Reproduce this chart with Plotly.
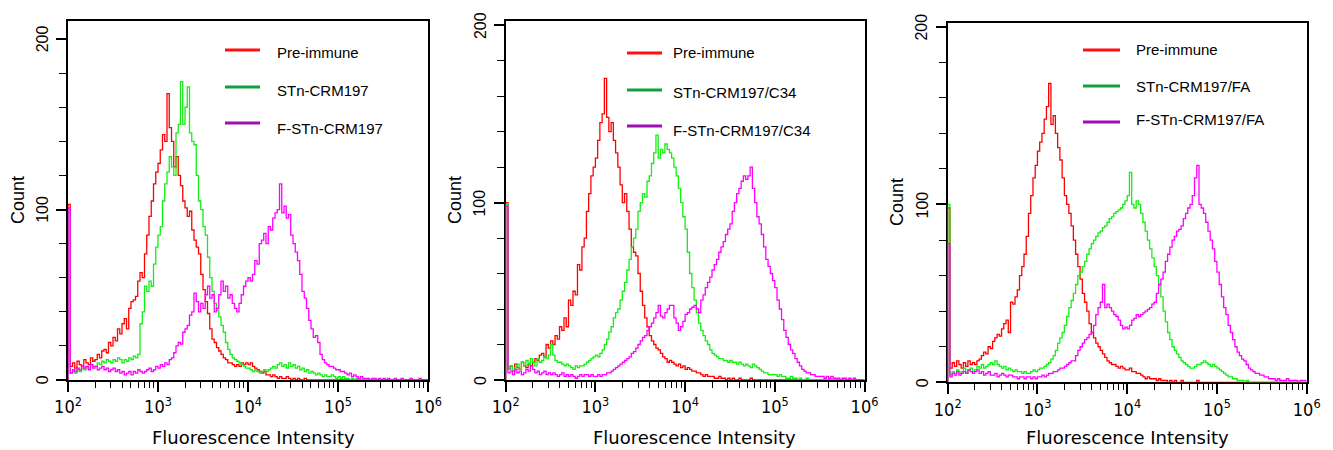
import plotly.graph_objects as go

# ---------------- data ----------------
BIN_START = 2.0      # log10 of first channel
BIN_STEP = 0.025     # channel width in decades
N_BINS = 160

legend_labels = [
    ["Pre-immune", "STn-CRM197", "F-STn-CRM197"],
    ["Pre-immune", "STn-CRM197/C34", "F-STn-CRM197/C34"],
    ["Pre-immune", "STn-CRM197/FA", "F-STn-CRM197/FA"],
]
x_title = "Fluorescence Intensity"
y_title = "Count"
y_ticks = [0, 100, 200]
x_tick_vals = [1e2, 1e3, 1e4, 1e5, 1e6]
x_tick_text = ["10<sup>2</sup>", "10<sup>3</sup>", "10<sup>4</sup>", "10<sup>5</sup>", "10<sup>6</sup>"]

p1_pre = [103, 8, 10, 7, 11, 9, 8, 12, 10, 9, 13, 11, 12, 15, 13, 17, 18, 16, 22, 20,
          25, 23, 30, 27, 33, 36, 30, 42, 46, 47, 49, 58, 63, 60, 74, 85, 96, 105, 115, 122,
          127, 135, 144, 140, 168, 148, 140, 125, 131, 120, 114, 105, 101, 96, 99, 88, 82, 78, 74, 62,
          53, 46, 39, 30, 24, 22, 19, 17, 15, 13, 12, 10, 10, 9, 8, 9, 8, 10, 9, 10,
          9, 10, 8, 7, 6, 5, 4, 5, 3, 3, 2, 3, 2, 1, 2, 1, 1, 2, 1, 0,
          1, 0, 1, 0, 0, 1, 0, 0, 0, 0, 0, 0, 0, 0, 0, 0, 0, 0, 0, 0,
          0, 0, 0, 0, 0, 0, 0, 0, 0, 0, 0, 0, 0, 0, 0, 0, 0, 0, 0, 0,
          0, 0, 0, 0, 0, 0, 0, 0, 0, 0, 0, 0, 0, 0, 0, 0, 0, 0, 0, 0]
p1_stn = [100, 4, 5, 4, 6, 5, 7, 6, 8, 7, 9, 8, 8, 10, 9, 11, 10, 12, 11, 10,
          12, 11, 13, 12, 10, 12, 11, 13, 12, 14, 13, 15, 33, 40, 55, 52, 58, 55, 68, 78,
          85, 90, 105, 115, 122, 131, 125, 120, 145, 150, 175, 150, 160, 172, 145, 140, 138, 120, 105, 100,
          90, 85, 72, 60, 52, 45, 41, 37, 32, 28, 22, 18, 15, 13, 12, 11, 10, 9, 8, 7,
          7, 6, 5, 6, 5, 4, 5, 6, 5, 6, 7, 8, 7, 9, 10, 8, 9, 7, 10, 8,
          9, 7, 8, 6, 7, 5, 6, 4, 5, 4, 3, 4, 3, 2, 3, 2, 2, 3, 2, 1,
          2, 1, 2, 1, 1, 0, 1, 0, 1, 0, 0, 0, 0, 0, 0, 0, 0, 0, 0, 0,
          0, 0, 0, 0, 0, 0, 0, 0, 0, 0, 0, 0, 0, 0, 0, 0, 0, 0, 0, 0]
p1_fstn = [101, 4, 6, 5, 7, 6, 8, 7, 8, 6, 9, 7, 8, 6, 7, 8, 6, 7, 5, 6,
           7, 5, 6, 4, 5, 3, 4, 5, 3, 5, 4, 6, 5, 4, 5, 6, 7, 5, 6, 8,
           7, 9, 8, 10, 9, 12, 13, 16, 20, 22, 21, 28, 30, 32, 38, 40, 51, 46, 40, 45,
           42, 50, 55, 48, 50, 40, 42, 50, 58, 52, 55, 48, 50, 45, 42, 40, 45, 50, 55, 58,
           60, 58, 62, 70, 68, 80, 82, 86, 80, 90, 88, 95, 98, 100, 115, 98, 102, 95, 97, 85,
           80, 75, 70, 62, 52, 48, 42, 35, 30, 25, 26, 22, 15, 12, 10, 9, 8, 8, 7, 6,
           6, 5, 5, 4, 3, 4, 2, 3, 2, 1, 2, 1, 1, 1, 0, 1, 1, 0, 1, 0,
           1, 0, 1, 0, 0, 1, 0, 0, 1, 0, 0, 0, 1, 0, 0, 0, 1, 0, 0, 0]

p2_pre = [100, 6, 8, 5, 9, 7, 6, 10, 8, 7, 9, 8, 10, 12, 11, 14, 15, 13, 20, 18,
          22, 20, 25, 23, 30, 28, 35, 30, 45, 42, 50, 48, 65, 62, 75, 80, 95, 105, 115, 120,
          125, 135, 145, 150, 170, 148, 140, 145, 135, 128, 120, 110, 100, 105, 95, 85, 75, 72, 70, 60,
          50, 42, 35, 30, 25, 22, 20, 18, 17, 15, 13, 12, 10, 11, 10, 9, 8, 9, 7, 8,
          6, 7, 6, 5, 5, 4, 4, 3, 2, 3, 2, 2, 2, 1, 1, 2, 1, 1, 0, 1,
          0, 1, 0, 0, 1, 0, 0, 0, 0, 1, 0, 0, 0, 0, 0, 0, 0, 0, 0, 0,
          0, 0, 0, 0, 0, 0, 0, 0, 0, 0, 0, 0, 0, 0, 0, 0, 0, 0, 0, 0,
          0, 0, 0, 0, 0, 0, 0, 0, 0, 0, 0, 0, 0, 0, 0, 0, 0, 0, 0, 0]
p2_stn = [99, 6, 8, 5, 7, 9, 6, 10, 8, 11, 9, 12, 10, 8, 12, 10, 11, 13, 12, 14,
          20, 14, 11, 10, 10, 9, 8, 9, 8, 7, 6, 8, 7, 8, 8, 9, 10, 11, 12, 13,
          14, 13, 15, 17, 20, 23, 27, 30, 35, 38, 40, 45, 50, 55, 62, 68, 75, 80, 85, 95,
          100, 105, 103, 112, 115, 122, 128, 138, 125, 130, 128, 133, 130, 128, 125, 120, 115, 108, 100, 92,
          85, 72, 60, 52, 45, 38, 32, 28, 25, 22, 20, 17, 15, 14, 13, 12, 12, 11, 11, 10,
          11, 10, 10, 9, 10, 9, 8, 9, 8, 7, 9, 8, 7, 6, 5, 4, 4, 3, 3, 3,
          3, 2, 3, 2, 2, 1, 1, 2, 1, 1, 0, 1, 0, 0, 1, 0, 0, 0, 0, 0,
          0, 0, 0, 0, 0, 0, 0, 0, 0, 0, 0, 0, 0, 0, 0, 0, 0, 0, 0, 0]
p2_fstn = [98, 4, 5, 3, 6, 4, 5, 3, 4, 6, 5, 8, 6, 4, 5, 3, 4, 5, 3, 4,
           3, 4, 3, 2, 3, 4, 2, 3, 2, 3, 2, 1, 2, 3, 2, 3, 3, 2, 3, 2,
           2, 3, 2, 3, 3, 4, 4, 5, 6, 7, 8, 9, 10, 11, 12, 13, 15, 16, 18, 20,
           22, 24, 25, 28, 30, 32, 35, 38, 42, 36, 35, 38, 40, 42, 42, 35, 32, 28, 30, 33,
           37, 38, 40, 41, 42, 40, 38, 45, 48, 52, 55, 58, 62, 65, 68, 72, 75, 78, 82, 85,
           88, 95, 100, 105, 108, 112, 115, 113, 115, 120, 108, 100, 92, 88, 82, 75, 68, 64, 60, 56,
           52, 45, 40, 34, 28, 24, 20, 17, 15, 12, 10, 8, 6, 5, 4, 4, 3, 3, 2, 2,
           2, 2, 1, 2, 1, 2, 1, 1, 1, 0, 1, 1, 0, 1, 0, 1, 0, 0, 0, 0]

p3_pre = [98, 8, 11, 9, 12, 10, 8, 11, 9, 12, 10, 11, 10, 12, 13, 15, 17, 16, 20, 19,
          23, 25, 27, 26, 30, 33, 35, 28, 45, 44, 48, 52, 60, 65, 72, 82, 95, 105, 115, 122,
          130, 135, 140, 148, 155, 168, 145, 150, 140, 132, 125, 115, 105, 100, 95, 88, 80, 72, 65, 58,
          50, 45, 40, 33, 28, 25, 22, 20, 18, 16, 14, 12, 11, 10, 10, 9, 8, 9, 8, 7,
          7, 8, 6, 6, 5, 5, 4, 3, 2, 3, 2, 2, 2, 1, 2, 1, 1, 1, 0, 1,
          0, 1, 0, 0, 1, 0, 0, 0, 0, 0, 0, 1, 0, 0, 0, 0, 0, 0, 0, 0,
          0, 0, 0, 0, 0, 0, 0, 0, 0, 0, 0, 0, 0, 0, 0, 0, 0, 0, 0, 0,
          0, 0, 0, 0, 0, 0, 0, 0, 0, 0, 0, 0, 0, 0, 0, 0, 0, 0, 0, 0]
p3_stn = [100, 4, 6, 5, 7, 5, 6, 8, 5, 7, 8, 6, 7, 9, 8, 10, 8, 9, 10, 11,
          10, 12, 10, 9, 8, 9, 7, 8, 7, 6, 7, 6, 6, 5, 6, 5, 5, 6, 7, 6,
          7, 8, 8, 9, 10, 11, 13, 15, 18, 22, 25, 28, 32, 37, 42, 46, 50, 55, 60, 62,
          65, 68, 72, 75, 78, 80, 82, 84, 85, 87, 88, 90, 92, 93, 95, 96, 97, 98, 100, 102,
          105, 118, 100, 98, 102, 100, 95, 90, 85, 80, 75, 70, 65, 60, 55, 48, 40, 34, 28, 24,
          20, 18, 16, 14, 12, 11, 10, 9, 8, 8, 9, 10, 10, 11, 12, 11, 10, 9, 10, 9,
          8, 7, 6, 5, 4, 3, 3, 2, 2, 1, 1, 1, 0, 1, 0, 0, 0, 0, 0, 0,
          0, 0, 0, 0, 0, 0, 0, 0, 0, 0, 0, 0, 0, 0, 0, 0, 0, 0, 0, 0]
p3_fstn = [78, 3, 5, 4, 6, 4, 5, 6, 5, 7, 6, 5, 6, 7, 5, 6, 4, 5, 6, 4,
           4, 5, 3, 4, 5, 4, 3, 4, 4, 3, 3, 2, 3, 3, 2, 3, 3, 2, 3, 2,
           3, 3, 4, 3, 4, 5, 5, 6, 6, 7, 8, 8, 9, 10, 11, 12, 12, 15, 18, 20,
           22, 24, 25, 27, 28, 32, 38, 42, 45, 55, 42, 44, 42, 40, 38, 37, 35, 32, 30, 31,
           30, 32, 35, 36, 38, 37, 38, 39, 40, 41, 42, 44, 45, 50, 55, 58, 62, 68, 72, 76,
           80, 82, 85, 86, 88, 92, 95, 98, 100, 105, 115, 122, 100, 98, 95, 90, 85, 80, 75, 68,
           62, 55, 48, 42, 38, 32, 28, 24, 20, 17, 15, 13, 12, 10, 8, 7, 6, 5, 5, 4,
           4, 3, 3, 2, 2, 2, 1, 2, 1, 1, 1, 2, 1, 1, 1, 1, 0, 1, 1, 1]

panels = [
    [p1_pre, p1_stn, p1_fstn],
    [p2_pre, p2_stn, p2_fstn],
    [p3_pre, p3_stn, p3_fstn],
]

# ---------------- style ----------------
W, H = 1333, 450
curve_colors = ["#FF0000", "#14EE14", "#FF00FF"]
legend_colors = ["#FF1010", "#10A040", "#A010B0"]

# plot boxes in pixels: left, right, top, bottom(y=0), y max
boxes = [
    dict(l=68.0, r=428.0, t=21.0, b=380.0, ymax=210.6),
    dict(l=505.7, r=864.5, t=21.0, b=380.0, ymax=202.3),
    dict(l=947.7, r=1306.7, t=22.7, b=382.3, ymax=202.2),
]
legend_pos = [
    dict(x0=225, x1=260, tx=275, ly=[50, 87, 123], ty=[53, 91, 128]),
    dict(x0=627, x1=662, tx=671, ly=[53, 90, 126], ty=[53, 92, 130]),
    dict(x0=1083, x1=1120, tx=1134, ly=[50, 86, 122], ty=[49, 86, 120]),
]
count_pos = [(18, 200), (455, 200), (897, 202)]
xtitle_pos = [(253.5, 437), (695, 437), (1127.5, 437)]
ytick_offset = 25.7   # label centre distance left of the y axis line


def PX(px):
    return px / W


def PY(py):
    return 1 - py / H


edges = [10 ** (BIN_START + BIN_STEP * i) for i in range(N_BINS + 1)]
minor_x = [m * 10 ** d for d in range(2, 6) for m in range(2, 10)]

fig = go.Figure()
shapes = []
annotations = []

for k, (series, box) in enumerate(zip(panels, boxes)):
    sfx = "" if k == 0 else str(k + 1)
    for j, vals in enumerate(series):
        xs = [edges[0]] + edges
        ys = [0] + list(vals) + [vals[-1]]
        fig.add_trace(go.Scatter(
            x=xs, y=ys, mode="lines", line=dict(color=curve_colors[j], width=1.3, shape="hv"),
            xaxis="x" + sfx, yaxis="y" + sfx, showlegend=False, hoverinfo="skip"))

    fig.update_layout(**{
        "xaxis" + sfx: dict(
            domain=[PX(box["l"]), PX(box["r"])], anchor="y" + sfx, type="log",
            range=[2, 6], tickvals=x_tick_vals, ticktext=x_tick_text, tickangle=0,
            automargin=False,
            showline=True, linecolor="black", linewidth=1.5, mirror=True,
            ticks="outside", ticklen=10, tickwidth=1.5, tickcolor="black",
            minor=dict(tickvals=minor_x, ticks="outside", ticklen=6, tickwidth=1.2,
                       tickcolor="black", showgrid=False),
            showgrid=False, zeroline=False, layer="below traces",
            tickfont=dict(family="DejaVu Sans Condensed, Liberation Sans Narrow, DejaVu Sans",
                          size=18, color="black"),
        ),
        "yaxis" + sfx: dict(
            domain=[PY(box["b"]), PY(box["t"])], anchor="x" + sfx,
            range=[0, box["ymax"]], tickvals=y_ticks, showticklabels=False,
            automargin=False,
            showline=True, linecolor="black", linewidth=1.5, mirror=True,
            ticks="outside", ticklen=10, tickwidth=1.5, tickcolor="black",
            minor=dict(dtick=20, ticks="outside", ticklen=7, tickwidth=1.2,
                       tickcolor="black", showgrid=False),
            showgrid=False, zeroline=False, layer="below traces",
        ),
    })

    # rotated y tick labels
    for v in y_ticks:
        annotations.append(dict(xref="paper", yref="y" + sfx, x=PX(box["l"] - ytick_offset), y=v,
                                xanchor="center", yanchor="middle", showarrow=False,
                                text=str(v), textangle=-90,
                                font=dict(family="Liberation Sans, Arial", size=16, color="black")))

    lp = legend_pos[k]
    for j in range(3):
        shapes.append(dict(type="line", xref="paper", yref="paper",
                           x0=PX(lp["x0"]), x1=PX(lp["x1"]),
                           y0=PY(lp["ly"][j]), y1=PY(lp["ly"][j]),
                           line=dict(color=legend_colors[j], width=3)))
        annotations.append(dict(xref="paper", yref="paper", x=PX(lp["tx"]), y=PY(lp["ty"][j]),
                                xanchor="left", yanchor="middle", showarrow=False,
                                text=legend_labels[k][j],
                                font=dict(family="Liberation Sans, Arial", size=15, color="black")))

    cx, cy = count_pos[k]
    annotations.append(dict(xref="paper", yref="paper", x=PX(cx), y=PY(cy),
                            xanchor="center", yanchor="middle", showarrow=False,
                            text=y_title, textangle=-90,
                            font=dict(family="Liberation Sans, Arial", size=18, color="black")))
    tx, ty = xtitle_pos[k]
    annotations.append(dict(xref="paper", yref="paper", x=PX(tx), y=PY(ty),
                            xanchor="center", yanchor="middle", showarrow=False,
                            text=x_title,
                            font=dict(family="DejaVu Sans", size=18, color="black")))

fig.update_layout(
    template="none",
    width=W, height=H, margin=dict(l=0, r=0, t=0, b=0, pad=0),
    paper_bgcolor="white", plot_bgcolor="white",
    shapes=shapes, annotations=annotations, showlegend=False,
)

fig.write_html("out.html", config={"displayModeBar": False},
               post_script="document.body.style.margin='0';document.body.style.overflow='hidden';")
